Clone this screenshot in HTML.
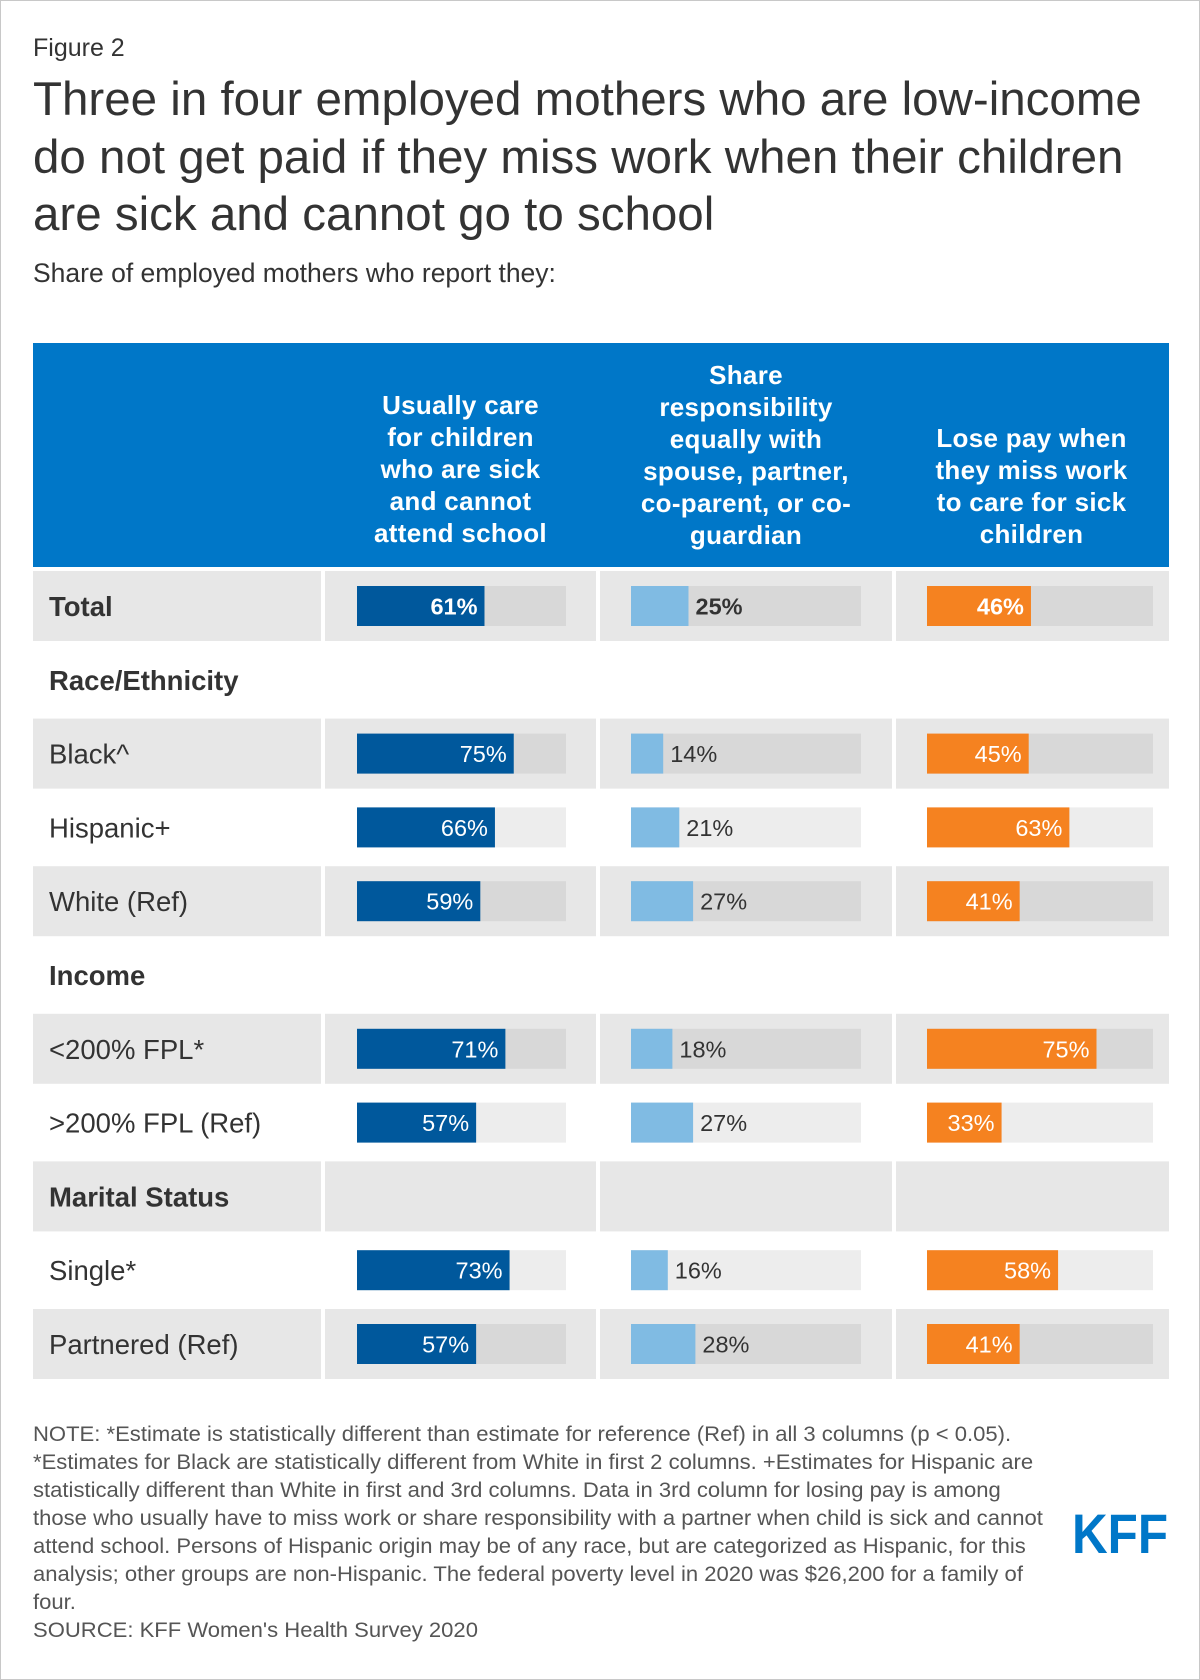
<!DOCTYPE html>
<html><head><meta charset="utf-8"><style>
body{margin:0;background:#fff;}
#frame{position:relative;width:1198px;height:1678px;border:1px solid #c8c8c8;font-family:"Liberation Sans",Arial,sans-serif;overflow:hidden;background:#fff}
.abs{position:absolute}
.hdr{position:absolute;color:#fff;font-weight:bold;font-size:26px;line-height:32px;text-align:center;letter-spacing:0.3px}
</style></head><body>
<div id="frame">
<div class="abs" style="left:32px;top:33px;font-size:25px;line-height:28px;color:#333">Figure 2</div>
<div class="abs" style="left:32px;top:70px;font-size:47.5px;line-height:57.5px;color:#333;white-space:nowrap">Three in four employed mothers who are low-income<br>do not get paid if they miss work when their children<br>are sick and cannot go to school</div>
<div class="abs" style="left:32px;top:257px;font-size:26.5px;line-height:30px;color:#333;white-space:nowrap">Share of employed mothers who report they:</div>
<div class="abs" style="left:32px;top:342px;width:1136px;height:224px;background:#0077c8"></div>
<div class="hdr" style="left:322px;top:388px;width:275px">Usually care<br>for children<br>who are sick<br>and cannot<br>attend school</div>
<div class="hdr" style="left:597px;top:358px;width:296px">Share<br>responsibility<br>equally with<br>spouse, partner,<br>co-parent, or co-<br>guardian</div>
<div class="hdr" style="left:893px;top:421px;width:275px">Lose pay when<br>they miss work<br>to care for sick<br>children</div>
<svg id="tbl" class="abs" style="left:0;top:0" width="1200" height="1680">
<text x="1071" y="1552" font-size="56" font-weight="bold" fill="#0077c8" textLength="96" lengthAdjust="spacingAndGlyphs">KFF</text>
</svg>
<div class="abs" style="left:32px;top:1420px;font-size:21px;line-height:28px;color:#555;white-space:nowrap;transform:scaleX(1.05);transform-origin:0 0">NOTE: *Estimate is statistically different than estimate for reference (Ref) in all 3 columns (p &lt; 0.05).<br>*Estimates for Black are statistically different from White in first 2 columns. +Estimates for Hispanic are<br>statistically different than White in first and 3rd columns. Data in 3rd column for losing pay is among<br>those who usually have to miss work or share responsibility with a partner when child is sick and cannot<br>attend school. Persons of Hispanic origin may be of any race, but are categorized as Hispanic, for this<br>analysis; other groups are non-Hispanic. The federal poverty level in 2020 was $26,200 for a family of<br>four.<br>SOURCE: KFF Women's Health Survey 2020</div>
</div>
<script>
const rowLabels=["Total","Race/Ethnicity","Black^","Hispanic+","White (Ref)","Income","<200% FPL*",">200% FPL (Ref)","Marital Status","Single*","Partnered (Ref)"];
const rowIsHeader=[false,true,false,false,false,true,false,false,true,false,false];
const careValues=[61,null,75,66,59,null,71,57,null,73,57];
const shareValues=[25,null,14,21,27,null,18,27,null,16,28];
const losePayValues=[46,null,45,63,41,null,75,33,null,58,41];
const rowGray=[true,false,true,false,true,false,true,false,true,false,true];
const NS="http://www.w3.org/2000/svg";
const svg=document.getElementById('tbl');
function mk(t,a){const e=document.createElementNS(NS,t);for(const k in a)e.setAttribute(k,a[k]);svg.appendChild(e);return e;}
const top0=570,pitch=73.8,rowH=70;
const cols=[{x0:356,w:209,vals:careValues,color:"#00589c",inside:true,name:"care"},
{x0:630,w:230,vals:shareValues,color:"#80bbe3",inside:false,name:"share"},
{x0:926,w:226,vals:losePayValues,color:"#f58220",inside:true,name:"lose-pay"}];
function xs(c,v){return c.w*v/100;}
rowLabels.forEach((lab,i)=>{
  const y=top0+i*pitch;
  if(rowGray[i]){
    [[32,288],[324,271],[599,292],[895,273]].forEach(s=>{
      const r=mk('rect',{x:s[0],y:y,width:s[1],height:rowH,fill:'#e7e7e7'});
      
      
    });
  }
  const t=mk('text',{x:48,y:y+rowH/2+10,'font-size':27.5,fill:'#333','font-weight':(rowIsHeader[i]||i===0)?'bold':'normal'});
  t.textContent=lab;
  
  
  cols.forEach(c=>{
    const v=c.vals[i];
    if(v===null)return;
    const by=y+(rowH-40)/2;
    const tr=mk('rect',{x:c.x0,y:by,width:c.w,height:40,fill:rowGray[i]?'#d8d8d8':'#ededed'});
    
    
    const bw=xs(c,v);
    const b=mk('rect',{x:c.x0,y:by,width:bw,height:40,fill:c.color});
    
    
    const tx=c.inside?mk('text',{x:c.x0+bw-7,y:by+28.5,'text-anchor':'end','font-size':23.5,fill:'#fff','font-weight':i===0?'bold':'normal'})
      :mk('text',{x:c.x0+bw+7,y:by+28.5,'font-size':23.5,fill:'#333','font-weight':i===0?'bold':'normal'});
    tx.textContent=v+'%';
    
    
  });
});
</script>
</body></html>
